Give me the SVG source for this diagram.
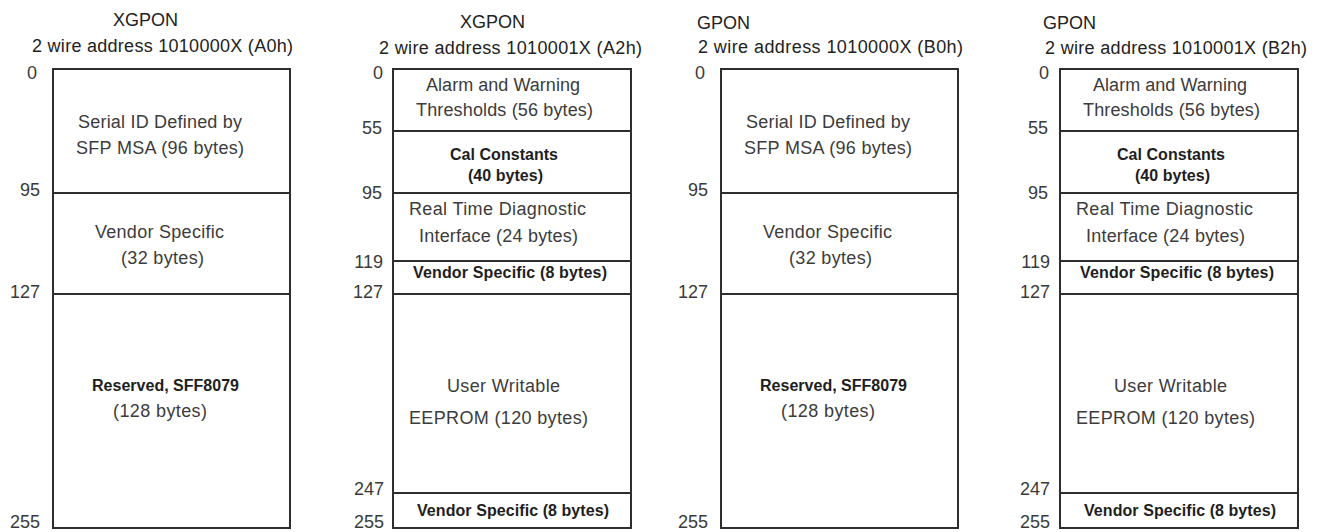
<svg xmlns="http://www.w3.org/2000/svg" width="1326" height="532" viewBox="0 0 1326 532">
<style>
  .bg { fill: #ffffff; }
  .seg { fill: #ffffff; stroke: #2e2e2e; stroke-width: 2; }
  text { font-family: "Liberation Sans", Arial, sans-serif; }
  .ttl { font-size: 18px; fill: #222222; }
  .num { font-size: 18px; fill: #3a3a3a; text-anchor: end; }
  .txt { font-size: 18px; fill: #3c3c3c; }
  .bld { font-size: 16px; fill: #1e1e1e; font-weight: bold; }
</style>
<rect class="bg" x="0" y="0" width="1326" height="532"/>

<g id="panel-a0h">
  <text class="ttl" x="113" y="26">XGPON</text>
  <text class="ttl" x="32" y="52" textLength="261" lengthAdjust="spacing">2 wire address 1010000X (A0h)</text>
  <rect class="seg" x="53" y="69" width="237" height="124"/>
  <rect class="seg" x="53" y="193" width="237" height="101"/>
  <rect class="seg" x="53" y="294" width="237" height="234"/>
  <text class="num" x="37" y="79">0</text>
  <text class="num" x="40" y="196">95</text>
  <text class="num" x="40" y="298">127</text>
  <text class="num" x="40" y="528">255</text>
  <text class="txt" x="78" y="128" textLength="164" lengthAdjust="spacing">Serial ID Defined by</text>
  <text class="txt" x="76" y="154" textLength="168" lengthAdjust="spacing">SFP MSA (96 bytes)</text>
  <text class="txt" x="95" y="238" textLength="129" lengthAdjust="spacing">Vendor Specific</text>
  <text class="txt" x="121" y="264" textLength="83" lengthAdjust="spacing">(32 bytes)</text>
  <text class="bld" x="92" y="391" textLength="147" lengthAdjust="spacing">Reserved, SFF8079</text>
  <text class="txt" x="113" y="417" textLength="94" lengthAdjust="spacing">(128 bytes)</text>
</g>

<g id="panel-a2h">
  <text class="ttl" x="460" y="28">XGPON</text>
  <text class="ttl" x="379" y="54" textLength="263" lengthAdjust="spacing">2 wire address 1010001X (A2h)</text>
  <rect class="seg" x="393" y="69" width="238" height="62"/>
  <rect class="seg" x="393" y="131" width="238" height="62"/>
  <rect class="seg" x="393" y="193" width="238" height="68"/>
  <rect class="seg" x="393" y="261" width="238" height="33"/>
  <rect class="seg" x="393" y="294" width="238" height="199"/>
  <rect class="seg" x="393" y="493" width="238" height="35"/>
  <text class="num" x="383" y="79">0</text>
  <text class="num" x="382" y="134">55</text>
  <text class="num" x="382" y="199">95</text>
  <text class="num" x="383" y="268">119</text>
  <text class="num" x="383" y="298">127</text>
  <text class="num" x="384" y="495">247</text>
  <text class="num" x="384" y="528">255</text>
  <text class="txt" x="426" y="91" textLength="154" lengthAdjust="spacing">Alarm and Warning</text>
  <text class="txt" x="416" y="116" textLength="177" lengthAdjust="spacing">Thresholds (56 bytes)</text>
  <text class="bld" x="450" y="160" textLength="108" lengthAdjust="spacing">Cal Constants</text>
  <text class="bld" x="468" y="181" textLength="75" lengthAdjust="spacing">(40 bytes)</text>
  <text class="txt" x="409" y="215" textLength="177" lengthAdjust="spacing">Real Time Diagnostic</text>
  <text class="txt" x="419" y="242" textLength="159" lengthAdjust="spacing">Interface (24 bytes)</text>
  <text class="bld" x="413" y="278" textLength="194" lengthAdjust="spacing">Vendor Specific (8 bytes)</text>
  <text class="txt" x="447" y="392" textLength="113" lengthAdjust="spacing">User Writable</text>
  <text class="txt" x="409" y="424" textLength="179" lengthAdjust="spacing">EEPROM (120 bytes)</text>
  <text class="bld" x="417" y="516" textLength="192" lengthAdjust="spacing">Vendor Specific (8 bytes)</text>
</g>

<g id="panel-b0h">
  <text class="ttl" x="697" y="29">GPON</text>
  <text class="ttl" x="698" y="53" textLength="265" lengthAdjust="spacing">2 wire address 1010000X (B0h)</text>
  <rect class="seg" x="721" y="69" width="237" height="124"/>
  <rect class="seg" x="721" y="193" width="237" height="101"/>
  <rect class="seg" x="721" y="294" width="237" height="234"/>
  <text class="num" x="705" y="79">0</text>
  <text class="num" x="708" y="196">95</text>
  <text class="num" x="708" y="298">127</text>
  <text class="num" x="708" y="528">255</text>
  <text class="txt" x="746" y="128" textLength="164" lengthAdjust="spacing">Serial ID Defined by</text>
  <text class="txt" x="744" y="154" textLength="168" lengthAdjust="spacing">SFP MSA (96 bytes)</text>
  <text class="txt" x="763" y="238" textLength="129" lengthAdjust="spacing">Vendor Specific</text>
  <text class="txt" x="789" y="264" textLength="83" lengthAdjust="spacing">(32 bytes)</text>
  <text class="bld" x="760" y="391" textLength="147" lengthAdjust="spacing">Reserved, SFF8079</text>
  <text class="txt" x="781" y="417" textLength="94" lengthAdjust="spacing">(128 bytes)</text>
</g>

<g id="panel-b2h">
  <text class="ttl" x="1043" y="29">GPON</text>
  <text class="ttl" x="1045" y="54" textLength="262" lengthAdjust="spacing">2 wire address 1010001X (B2h)</text>
  <rect class="seg" x="1060" y="69" width="238" height="62"/>
  <rect class="seg" x="1060" y="131" width="238" height="62"/>
  <rect class="seg" x="1060" y="193" width="238" height="68"/>
  <rect class="seg" x="1060" y="261" width="238" height="33"/>
  <rect class="seg" x="1060" y="294" width="238" height="199"/>
  <rect class="seg" x="1060" y="493" width="238" height="35"/>
  <text class="num" x="1049" y="79">0</text>
  <text class="num" x="1048" y="134">55</text>
  <text class="num" x="1048" y="199">95</text>
  <text class="num" x="1050" y="268">119</text>
  <text class="num" x="1050" y="298">127</text>
  <text class="num" x="1050" y="495">247</text>
  <text class="num" x="1050" y="528">255</text>
  <text class="txt" x="1093" y="91" textLength="154" lengthAdjust="spacing">Alarm and Warning</text>
  <text class="txt" x="1083" y="116" textLength="177" lengthAdjust="spacing">Thresholds (56 bytes)</text>
  <text class="bld" x="1117" y="160" textLength="108" lengthAdjust="spacing">Cal Constants</text>
  <text class="bld" x="1135" y="181" textLength="75" lengthAdjust="spacing">(40 bytes)</text>
  <text class="txt" x="1076" y="215" textLength="177" lengthAdjust="spacing">Real Time Diagnostic</text>
  <text class="txt" x="1086" y="242" textLength="159" lengthAdjust="spacing">Interface (24 bytes)</text>
  <text class="bld" x="1080" y="278" textLength="194" lengthAdjust="spacing">Vendor Specific (8 bytes)</text>
  <text class="txt" x="1114" y="392" textLength="113" lengthAdjust="spacing">User Writable</text>
  <text class="txt" x="1076" y="424" textLength="179" lengthAdjust="spacing">EEPROM (120 bytes)</text>
  <text class="bld" x="1084" y="516" textLength="192" lengthAdjust="spacing">Vendor Specific (8 bytes)</text>
</g>

<g id="connectors"></g>
</svg>
